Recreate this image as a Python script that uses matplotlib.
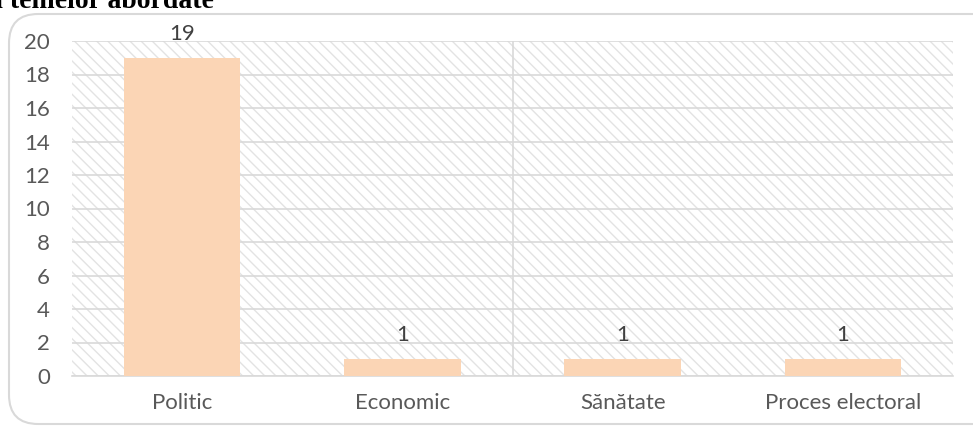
import matplotlib.pyplot as plt
from matplotlib.patches import Rectangle, FancyBboxPatch

# Chart data
categories = ['Politic', 'Economic', 'Sănătate', 'Proces electoral']
counts = [19, 1, 1, 1]
y_ticks = [0, 2, 4, 6, 8, 10, 12, 14, 16, 18, 20]

plt.rcParams['font.family'] = ['Lato', 'DejaVu Sans']
plt.rcParams['hatch.linewidth'] = 1.0

fig = plt.figure(figsize=(9.73, 4.29), dpi=100)
ax = fig.add_axes([72 / 973, 1 - 376 / 429, (953 - 72) / 973, (376 - 41) / 429])

# Rounded border of the chart area
border = FancyBboxPatch((9 / 973, 5 / 429), 1.2, (424 - 14) / 429,
                        boxstyle='round,pad=0,rounding_size=0.03',
                        transform=fig.transFigure, facecolor='none',
                        edgecolor='#d9d9d9', linewidth=1.5, mutation_aspect=973 / 429)
fig.patches.append(border)

# Hatched plot background
ax.add_patch(Rectangle((0, 0), 1, 1, transform=ax.transAxes, facecolor='white',
                       edgecolor='#e3e3e3', hatch='\\\\\\', linewidth=0, zorder=0))

x = list(range(len(categories)))
ax.bar(x, counts, width=0.53, color='#fbd5b5', zorder=3)
# value labels, fixed gap above each bar
for xi, v in zip(x, counts):
    ax.annotate(str(v), (xi, v), xytext=(0, 14), textcoords='offset pixels',
                ha='center', va='bottom', fontsize=16, color='#404040')

ax.set_xlim(-0.5, len(categories) - 0.5)
ax.set_ylim(0, 20)
ax.set_yticks(y_ticks)
ax.set_xticks(x)
ax.set_xticklabels(categories)
ax.tick_params(axis='both', length=0, labelsize=16, colors='#595959')
ax.tick_params(axis='x', pad=12)
ax.tick_params(axis='y', pad=16)

ax.yaxis.grid(True, color='#d9d9d9', linewidth=1.2, zorder=1)
ax.axvline(1.5, color='#d9d9d9', linewidth=1.2, zorder=1)
for side in ['left', 'right', 'top']:
    ax.spines[side].set_visible(False)
ax.spines['bottom'].set_color('#d9d9d9')
ax.spines['bottom'].set_linewidth(1.2)
ax.set_axisbelow(True)

# Title, cut off at the top edge as in the source image
fig.text(214 / 973, 1 - 8 / 429, 'a temelor abordate', fontsize=20, fontweight='bold',
         family='Liberation Serif', ha='right', va='baseline', color='black')

fig.savefig('out.png', dpi=100)
